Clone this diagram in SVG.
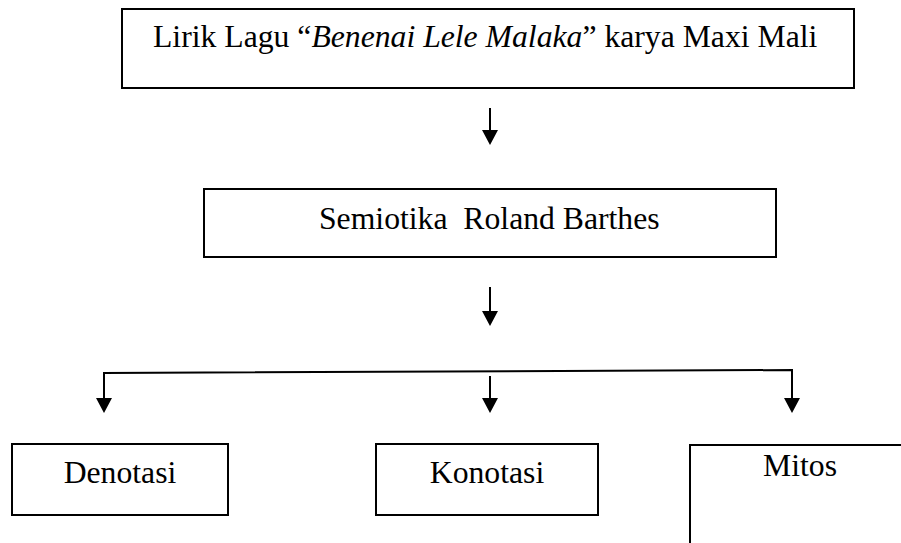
<svg xmlns="http://www.w3.org/2000/svg" width="901" height="543" viewBox="0 0 901 543">
<style>
.box{fill:#fff;stroke:#000;stroke-width:2}
.t{font-family:"Liberation Serif","Times New Roman",serif;font-size:31.7px;fill:#000}
.c{stroke:#000;stroke-width:2;fill:none}
.ah{fill:#000}
</style>
<rect width="901" height="543" fill="#fff"/>
<g id="connectors">
<path class="c" d="M490,108 V130"/><path class="ah" d="M482,130 L498,130 L490,145 Z"/>
<path class="c" d="M490,287 V311"/><path class="ah" d="M482,311 L498,311 L490,326 Z"/>
<path class="c" d="M104,398 V373 L792,370 V398"/>
<path class="c" d="M490,376 V398"/>
<path class="ah" d="M96,398 L112,398 L104,413 Z"/>
<path class="ah" d="M482,398 L498,398 L490,413 Z"/>
<path class="ah" d="M784,398 L800,398 L792,413 Z"/>
</g>
<g id="lirik">
<rect class="box" x="122" y="9" width="732" height="79"/>
<text class="t" x="153" y="47">Lirik Lagu “<tspan font-style="italic">Benenai Lele Malaka</tspan>” karya Maxi Mali</text>
</g>
<g id="semiotika">
<rect class="box" x="204" y="189" width="572" height="68"/>
<text class="t" x="319" y="229" xml:space="preserve">Semiotika  Roland Barthes</text>
</g>
<g id="denotasi">
<rect class="box" x="12" y="444" width="216" height="71"/>
<text class="t" x="120" y="483" text-anchor="middle">Denotasi</text>
</g>
<g id="konotasi">
<rect class="box" x="376" y="444" width="222" height="71"/>
<text class="t" x="487" y="483" text-anchor="middle">Konotasi</text>
</g>
<g id="mitos">
<rect class="box" x="690" y="445" width="220" height="110"/>
<text class="t" x="763" y="476">Mitos</text>
</g>
</svg>
